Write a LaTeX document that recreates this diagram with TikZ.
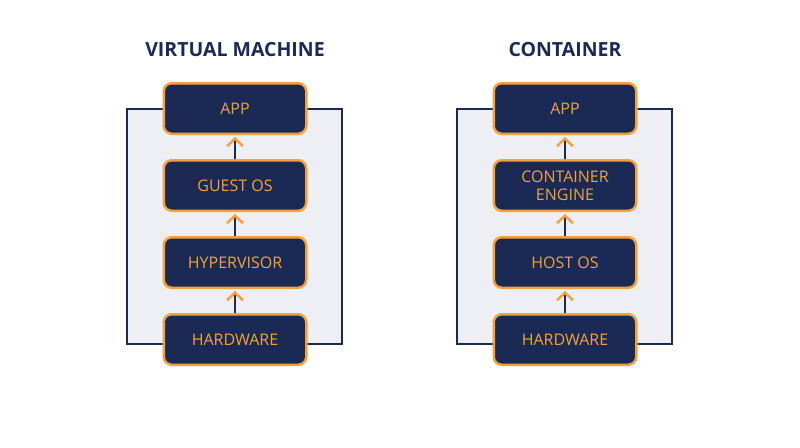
\documentclass[tikz,border=0pt]{standalone}
\usepackage{fontspec}
\setmainfont{Open Sans}
\usepackage{xcolor}
\usetikzlibrary{arrows.meta,positioning}
\definecolor{navy}{HTML}{1B2A55}
\definecolor{arancio}{HTML}{F2A23C}
\definecolor{sfondo}{HTML}{EEEFF5}

\begin{document}
\begin{tikzpicture}[x=1pt, y=-1pt,
    livello/.style={draw=arancio, line width=2.5pt, fill=navy, rounded corners=8pt,
      minimum width=142.5pt, minimum height=50.5pt, inner sep=0pt, align=center,
      text=arancio, font=\fontsize{16}{18}\selectfont},
    titolo/.style={text=navy, font=\bfseries\fontsize{19.5}{22}\selectfont},
    freccia/.style={navy, line width=2pt, shorten >=2pt,
      -{Straight Barb[color=arancio, length=7.5pt, width=16pt, line width=2.5pt]}}]
    \useasboundingbox (0,0) rectangle (800,447);

    % Sfondi delle due pile
    \draw[navy, line width=2.5pt, fill=sfondo] (127,109) rectangle (342,344);
    \draw[navy, line width=2.5pt, fill=sfondo] (457,109) rectangle (672,344);

    % Titoli
    \node[titolo] (tvm) at (235,50) {VIRTUAL MACHINE};
    \node[titolo] (tct) at (565,50) {CONTAINER};

    % Pila macchina virtuale
    \node[livello] (appvm) at (235,108.5) {APP};
    \node[livello, below=24pt of appvm] (guest) {GUEST OS};
    \node[livello, below=24pt of guest] (hyper) {HYPERVISOR};
    \node[livello, below=24pt of hyper] (hwvm) {HARDWARE};

    % Pila container
    \node[livello] (appct) at (565,108.5) {APP};
    \node[livello, below=24pt of appct] (engine) {CONTAINER\\ENGINE};
    \node[livello, below=24pt of engine] (host) {HOST OS};
    \node[livello, below=24pt of host] (hwct) {HARDWARE};

    % Frecce tra i livelli
    \draw[freccia] (hwvm) -- (hyper);
    \draw[freccia] (hyper) -- (guest);
    \draw[freccia] (guest) -- (appvm);
    \draw[freccia] (hwct) -- (host);
    \draw[freccia] (host) -- (engine);
    \draw[freccia] (engine) -- (appct);
\end{tikzpicture}
\end{document}
